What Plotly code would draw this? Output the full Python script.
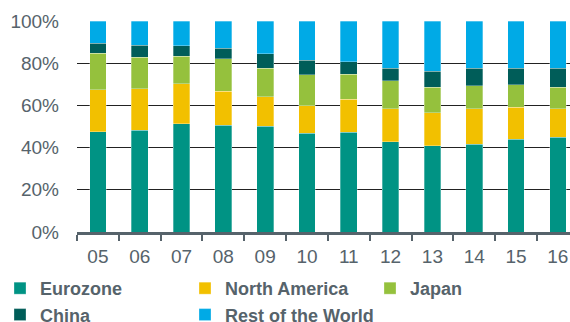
import plotly.graph_objects as go

years = ["05", "06", "07", "08", "09", "10", "11", "12", "13", "14", "15", "16"]
eurozone = [47.4, 48.3, 51.2, 50.7, 50.2, 46.9, 47.2, 42.7, 40.8, 41.7, 43.9, 45.0]
north_america = [20.1, 19.6, 19.1, 16.1, 13.9, 13.0, 15.7, 15.8, 15.8, 16.6, 15.3, 13.5]
japan = [17.3, 15.0, 13.1, 15.3, 13.5, 14.7, 11.8, 13.1, 12.1, 10.9, 10.5, 10.2]
china = [4.6, 5.7, 4.8, 5.1, 6.8, 6.9, 5.9, 6.0, 7.6, 8.5, 8.0, 9.0]
rest_of_world = [10.6, 11.4, 11.8, 12.8, 15.6, 18.5, 19.4, 22.4, 23.7, 22.3, 22.3, 22.3]

series = [
    ("Eurozone", eurozone, "#009384"),
    ("North America", north_america, "#f2c000"),
    ("Japan", japan, "#95c13d"),
    ("China", china, "#005d59"),
    ("Rest of the World", rest_of_world, "#00aae6"),
]

TXT = "#56636b"
FONT = "Liberation Sans, Arial, sans-serif"

fig = go.Figure()
for name, vals, col in series:
    fig.add_trace(go.Bar(
        x=years, y=vals, name=name,
        marker=dict(color=col, line=dict(width=0.6, color="rgba(255,255,255,0.5)")),
    ))

fig.update_layout(
    width=570, height=322,
    barmode="stack", bargap=0.6,
    margin=dict(l=77, r=0, t=21, b=90, autoexpand=False),
    plot_bgcolor="white", paper_bgcolor="white",
    font=dict(family=FONT, color=TXT),
    legend=dict(
        orientation="h", x=-77 / 493, xanchor="left",
        y=-0.18, yanchor="top",
        font=dict(size=18, family=FONT, color=TXT, weight="bold"),
        entrywidth=140, entrywidthmode="pixels",
        itemclick=False, traceorder="normal",
    ),
    xaxis=dict(
        type="category", range=[-0.5, 11.29],
        showline=True, linewidth=3, linecolor=TXT,
        ticks="outside", tickson="boundaries", ticklen=6, tickwidth=2, tickcolor=TXT,
        tickfont=dict(size=19, color=TXT), showgrid=False, ticklabelstandoff=5,
    ),
    yaxis=dict(
        range=[0, 100], tickvals=[0, 20, 40, 60, 80, 100],
        ticktext=["0%", "20%", "40%", "60%", "80%", "100%"],
        showgrid=True, gridcolor="#222222", gridwidth=1.3,
        zeroline=False, showline=False, ticks="",
        tickfont=dict(size=19, color=TXT), ticklabelstandoff=17,
    ),
)

fig.write_html("out.html")
